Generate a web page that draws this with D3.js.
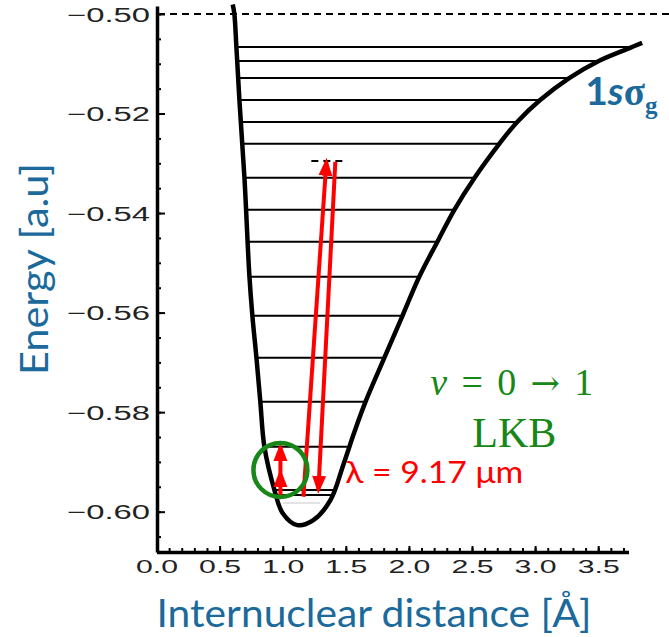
<!DOCTYPE html>
<html lang="en">
<meta charset="utf-8">
<head>
    <script src="https://d3js.org/d3.v7.min.js"></script>
    <style>
        body { margin: 0; background: #fff; }
    </style>
</head>
<body>
<script>

// potential curve 1s sigma_g, left branch down to minimum then right branch
var curveR = [0.604, 0.617, 0.633, 0.657, 0.697, 0.736, 0.760, 0.792, 0.823, 0.855, 0.934, 1.000, 1.116,
              1.243, 1.378, 1.480, 1.568, 1.655, 1.805, 1.948, 2.082, 2.225, 2.359, 2.518, 2.716, 2.858, 3.040, 3.270, 3.508, 3.753, 3.848];
var curveE = [-0.4981, -0.5000, -0.5066, -0.5173, -0.5330, -0.5526, -0.5607, -0.5691, -0.5780, -0.5870, -0.5956, -0.6003, -0.6027,
              -0.6017, -0.5977, -0.5906, -0.5840, -0.5780, -0.5691, -0.5607, -0.5528, -0.5458, -0.5394, -0.5330, -0.5261, -0.5217, -0.5173, -0.5129, -0.5094, -0.5068, -0.5058];
var minIndex = 12;

// vibrational levels
var levelE = [-0.50663, -0.50944, -0.51285, -0.51727, -0.52169, -0.52610, -0.53293, -0.53936,
              -0.54578, -0.55281, -0.56064, -0.56908, -0.57791, -0.58695, -0.59564, -0.59665];
var faintLevelE = [-0.59826];

// red transitions
var arrowR0 = [1.164, 1.417, 0.982, 0.982];
var arrowE0 = [-0.5970, -0.5297, -0.59665, -0.59221];
var arrowR1 = [1.346, 1.283, 0.982, 0.982];
var arrowE1 = [-0.5297, -0.5956, -0.59221, -0.58700];

var dashR = [1.227, 1.512];
var dashE = -0.52954;

var xTicks = [0, 0.5, 1, 1.5, 2, 2.5, 3, 3.5];
var yTicks = [-0.60, -0.58, -0.56, -0.54, -0.52, -0.50];

var width = 669, height = 637;
var blue = "#1b6a9b", green = "#178717", red = "#ff0000";

var svg = d3.select("body").append("svg")
    .attr("width", width)
    .attr("height", height);

var x = d3.scaleLinear().domain([0, 3.74]).range([156.5, 628.5]);
var y = d3.scaleLinear().domain([-0.6081, -0.4984]).range([552, 6]);

// y axis
svg.append("g")
    .attr("transform", "translate(157,0)")
    .call(d3.axisLeft(y).tickValues(d3.range(-0.605, -0.4975, 0.005)).tickFormat("").tickSize(-4).tickSizeOuter(0))
    .call(g => g.select(".domain").attr("stroke-width", 3.5))
    .call(g => g.selectAll("line").attr("stroke-width", 2));

svg.append("g")
    .attr("class", "yaxis")
    .attr("transform", "translate(157,0)")
    .call(d3.axisLeft(y).tickValues(yTicks).tickFormat(d3.format(".2f")).tickSize(-8).tickPadding(7).tickSizeOuter(0))
    .call(g => g.select(".domain").remove())
    .call(g => g.selectAll("line").attr("stroke-width", 2))
    .call(g => g.selectAll("text")
        .attr("font-family", "Liberation Sans, Arial, sans-serif")
        .attr("font-size", 20)
        .attr("fill", "#222")
        .attr("dy", "0.36em")
        .attr("textLength", 83)
        .attr("lengthAdjust", "spacingAndGlyphs"));

// x axis
svg.append("g")
    .attr("transform", "translate(0,552)")
    .call(d3.axisBottom(x).tickValues(d3.range(0, 3.75, 0.1)).tickFormat("").tickSize(-4).tickSizeOuter(0))
    .call(g => g.select(".domain").attr("stroke-width", 3.5))
    .call(g => g.selectAll("line").attr("stroke-width", 2));

svg.append("g")
    .attr("class", "xaxis")
    .attr("transform", "translate(0,552)")
    .call(d3.axisBottom(x).tickValues(xTicks).tickFormat(d3.format(".1f")).tickSize(-6).tickPadding(8).tickSizeOuter(0))
    .call(g => g.select(".domain").remove())
    .call(g => g.selectAll("line").attr("stroke-width", 2))
    .call(g => g.selectAll("text")
        .attr("font-family", "Liberation Sans, Arial, sans-serif")
        .attr("font-size", 19)
        .attr("fill", "#222")
        .attr("textLength", 42)
        .attr("lengthAdjust", "spacingAndGlyphs"));

// axis titles
svg.append("text")
    .attr("x", 374)
    .attr("y", 627)
    .attr("text-anchor", "middle")
    .attr("font-family", "Lato, sans-serif")
    .attr("font-size", 38)
    .attr("fill", blue)
    .attr("textLength", 435)
    .attr("lengthAdjust", "spacingAndGlyphs")
    .text("Internuclear distance [Å]");

svg.append("text")
    .attr("transform", "translate(48,269) rotate(-90)")
    .attr("text-anchor", "middle")
    .attr("font-family", "Lato, sans-serif")
    .attr("font-size", 38)
    .attr("fill", blue)
    .attr("textLength", 212)
    .attr("lengthAdjust", "spacingAndGlyphs")
    .text("Energy [a.u]");

// dissociation limit
svg.append("line")
    .attr("x1", 158).attr("x2", width)
    .attr("y1", y(-0.5)).attr("y2", y(-0.5))
    .attr("stroke", "#000")
    .attr("stroke-width", 2)
    .attr("stroke-dasharray", "7,5");

// find R where a branch crosses energy e
function crossing(i0, i1, e) {
    var step = i1 > i0 ? 1 : -1;
    for (var i = i0; i != i1; i += step) {
        var ea = curveE[i], eb = curveE[i + step];
        if ((e - ea) * (e - eb) <= 0) {
            var t = (e - ea) / (eb - ea);
            return curveR[i] + t * (curveR[i + step] - curveR[i]);
        }
    }
    return curveR[i1];
}

var last = curveR.length - 1;

svg.selectAll(".level")
    .data(levelE)
    .enter().append("line")
    .attr("class", "level")
    .attr("x1", d => x(crossing(0, minIndex, d)))
    .attr("x2", d => x(crossing(last, minIndex, d)))
    .attr("y1", d => y(d))
    .attr("y2", d => y(d))
    .attr("stroke", "#000")
    .attr("stroke-width", 2);

svg.selectAll(".faint")
    .data(faintLevelE)
    .enter().append("line")
    .attr("x1", d => x(crossing(0, minIndex, d)) + 4)
    .attr("x2", d => x(crossing(last, minIndex, d)) - 8)
    .attr("y1", d => y(d))
    .attr("y2", d => y(d))
    .attr("stroke", "#dadada")
    .attr("stroke-width", 1.5);

// the potential
var pts = curveR.map((r, i) => [r, curveE[i]]);
svg.append("path")
    .datum(pts)
    .attr("fill", "none")
    .attr("stroke", "#000")
    .attr("stroke-width", 4.5)
    .attr("d", d3.line()
        .x(d => x(d[0]))
        .y(d => y(d[1]))
        .curve(d3.curveCatmullRom));

// short dashed target level
svg.append("line")
    .attr("x1", x(dashR[0])).attr("x2", x(dashR[1]))
    .attr("y1", y(dashE)).attr("y2", y(dashE))
    .attr("stroke", "#000")
    .attr("stroke-width", 2)
    .attr("stroke-dasharray", "7,5");

// arrows
svg.append("defs").append("marker")
    .attr("id", "head")
    .attr("markerUnits", "userSpaceOnUse")
    .attr("viewBox", "0 -8 18 16")
    .attr("markerWidth", 18)
    .attr("markerHeight", 16)
    .attr("refX", 14)
    .attr("refY", 0)
    .attr("orient", "auto")
    .append("path")
    .attr("d", "M0,-7L18,0L0,7Z")
    .attr("fill", red);

svg.selectAll(".arrow")
    .data(arrowR0)
    .enter().append("line")
    .attr("class", "arrow")
    .attr("x1", (d, i) => x(arrowR0[i]))
    .attr("y1", (d, i) => y(arrowE0[i]))
    .attr("x2", (d, i) => x(arrowR1[i]))
    .attr("y2", (d, i) => y(arrowE1[i]))
    .attr("stroke", red)
    .attr("stroke-width", 4)
    .attr("marker-end", "url(#head)");

// circle around v=0 -> 1
svg.append("circle")
    .attr("cx", x(0.982))
    .attr("cy", y(-0.5916))
    .attr("r", 27)
    .attr("fill", "none")
    .attr("stroke", green)
    .attr("stroke-width", 4.5);

// annotations
var sig = svg.append("text")
    .attr("x", x(3.397))
    .attr("y", y(-0.51828))
    .attr("fill", blue)
    .attr("font-weight", "bold")
    .attr("font-size", 39);
sig.append("tspan").attr("font-family", "Lato, sans-serif").text("1");
sig.append("tspan").attr("font-family", "Lato, sans-serif").attr("font-style", "italic").text("s");
sig.append("tspan").attr("font-family", "Liberation Serif, serif").text("σ");
sig.append("tspan").attr("font-family", "Liberation Serif, serif").attr("font-size", 25).attr("dy", 9).text("g");

var nu = svg.append("text")
    .attr("x", x(2.815))
    .attr("y", y(-0.57656))
    .attr("text-anchor", "middle")
    .attr("fill", green)
    .attr("font-family", "Liberation Serif, serif")
    .attr("font-size", 38)
    .attr("textLength", 163)
    .attr("lengthAdjust", "spacing");
nu.append("tspan").attr("font-style", "italic").text("v");
nu.append("tspan").text(" = 0 ");
nu.append("tspan").attr("font-family", "DejaVu Serif, serif").attr("font-size", 35).text("→");
nu.append("tspan").text(" 1");

svg.append("text")
    .attr("x", x(2.835))
    .attr("y", y(-0.58700))
    .attr("text-anchor", "middle")
    .attr("fill", green)
    .attr("font-family", "Liberation Serif, serif")
    .attr("font-size", 42)
    .text("LKB");

svg.append("text")
    .attr("x", x(1.496))
    .attr("y", y(-0.59424))
    .attr("fill", red)
    .attr("font-family", "Lato, sans-serif")
    .attr("font-size", 31)
    .attr("textLength", 178)
    .attr("lengthAdjust", "spacingAndGlyphs")
    .text("λ = 9.17 μm");

</script>
</body>
</html>
